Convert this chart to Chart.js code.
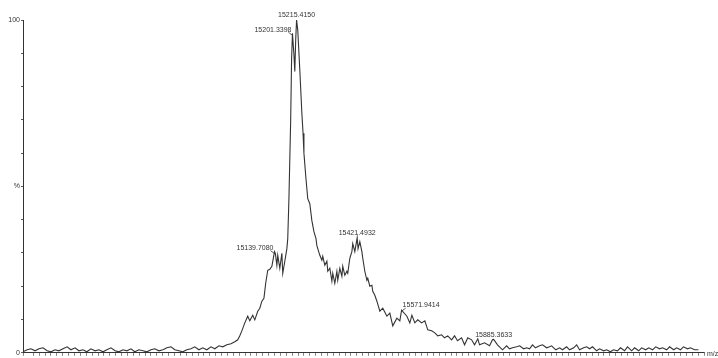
<!DOCTYPE html>
<html>
<head>
<meta charset="utf-8">
<title>Deconvoluted spectrum</title>
<script src="https://cdn.jsdelivr.net/npm/chart.js@4/dist/chart.umd.min.js"></script>
<style>
  html, body { margin: 0; padding: 0; background: #fff; }
  #spectrum { display: block; }
</style>
</head>
<body>
<canvas id="spectrum" width="718" height="358"></canvas>
<script>
// m/z positions of the trace
const mzValues = [
  14285, 14299, 14312, 14326, 14339, 14353, 14367, 14380, 14394, 14407,
  14421, 14435, 14448, 14462, 14475, 14489, 14502, 14516, 14530, 14543,
  14557, 14570, 14584, 14598, 14611, 14625, 14638, 14652, 14665, 14679,
  14693, 14706, 14720, 14733, 14747, 14761, 14774, 14788, 14801, 14815,
  14828, 14842, 14856, 14869, 14883, 14896, 14910, 14924, 14937, 14951,
  14964, 14978, 14992, 15005, 15015, 15022, 15029, 15039, 15049, 15056,
  15066, 15073, 15083, 15090, 15097, 15104, 15110, 15117, 15124, 15131,
  15140, 15143, 15148, 15151, 15158, 15165, 15168, 15175, 15182, 15185,
  15189, 15192, 15195, 15198, 15201, 15206, 15209, 15212, 15215, 15219,
  15226, 15233, 15237, 15240, 15247, 15253, 15260, 15267, 15274, 15281,
  15284, 15294, 15301, 15304, 15311, 15318, 15321, 15328, 15335, 15338,
  15345, 15352, 15355, 15362, 15369, 15372, 15379, 15386, 15389, 15396,
  15403, 15406, 15413, 15421, 15424, 15430, 15437, 15440, 15447, 15454,
  15457, 15464, 15471, 15474, 15481, 15488, 15498, 15508, 15522, 15532,
  15542, 15556, 15566, 15572, 15590, 15600, 15607, 15617, 15627, 15640,
  15651, 15661, 15674, 15685, 15695, 15708, 15718, 15729, 15742, 15752,
  15762, 15776, 15786, 15797, 15810, 15820, 15831, 15837, 15854, 15871,
  15881, 15885, 15898, 15915, 15929, 15939, 15949, 15963, 15973, 15987,
  15997, 16007, 16017, 16027, 16041, 16051, 16065, 16075, 16082, 16096,
  16109, 16119, 16133, 16143, 16157, 16167, 16177, 16191, 16201, 16211,
  16221, 16235, 16245, 16259, 16269, 16282, 16292, 16306, 16316, 16330,
  16340, 16354, 16364, 16378, 16388, 16402, 16412, 16425, 16436, 16449,
  16459, 16473, 16483, 16497, 16507, 16520, 16530, 16544, 16554, 16568,
  16581
];

// relative intensity (%) at each m/z above
const intensity = [
  0.3, 0.9, 1.2, 0.6, 1.2, 1.5, 0.6, 0.3, 0.9, 0.6,
  1.2, 1.8, 0.9, 1.5, 0.6, 0.9, 0.3, 1.2, 0.6, 0.9,
  0.3, 0.9, 1.5, 0.6, 0.3, 0.9, 0.6, 1.2, 0.3, 0.9,
  0.6, 0.3, 0.9, 1.2, 0.6, 0.9, 1.5, 1.8, 0.9, 0.6,
  0.3, 0.9, 1.2, 1.8, 0.9, 1.5, 0.9, 1.8, 1.2, 2.1,
  1.8, 2.4, 2.7, 3.3, 3.9, 5.1, 6.6, 9.0, 11.0, 9.6,
  11.3, 9.9, 12.5, 13.4, 15.5, 16.4, 20.9, 24.8, 25.1, 26.0,
  30.4, 29.8, 26.3, 29.3, 25.4, 29.9, 23.9, 27.5, 31.3, 34.3,
  46.3, 58.2, 70.1, 88.1, 96.0, 89.6, 84.5, 94.0, 100, 97.0,
  85.0, 72.0, 66.0, 60.0, 52.2, 46.3, 44.8, 39.7, 36.4, 34.3,
  32.2, 29.3, 27.8, 29.0, 26.3, 27.5, 24.5, 25.4, 21.5, 23.9,
  20.9, 24.5, 21.8, 25.4, 23.0, 26.0, 23.3, 24.5, 23.9, 28.4,
  30.4, 32.8, 30.4, 34.6, 31.3, 33.4, 30.4, 28.4, 24.5, 21.8,
  22.4, 20.0, 20.3, 18.5, 17.3, 15.5, 12.5, 13.4, 11.0, 11.9,
  8.1, 10.4, 9.6, 12.8, 11.0, 9.0, 11.3, 9.0, 9.9, 9.0,
  9.6, 6.9, 6.6, 6.0, 5.1, 5.4, 4.5, 5.1, 3.9, 5.1,
  3.6, 4.5, 2.4, 4.5, 3.9, 2.4, 4.2, 2.4, 3.0, 2.1,
  3.9, 4.0, 2.4, 0.9, 2.1, 1.2, 1.5, 1.8, 2.1, 1.2,
  1.5, 1.2, 2.4, 1.5, 2.1, 2.4, 1.5, 1.8, 2.1, 0.9,
  1.5, 0.9, 1.8, 0.9, 1.5, 2.4, 0.9, 1.5, 1.8, 1.2,
  1.8, 0.6, 1.2, 0.6, 0.9, 0.3, 0.9, 0.6, 1.5, 0.6,
  1.8, 0.6, 1.5, 0.6, 1.5, 0.9, 1.5, 0.9, 1.8, 1.2,
  1.5, 0.9, 1.8, 0.9, 1.5, 0.9, 1.8, 1.2, 1.5, 0.9,
  0.9
];

// annotated peaks
const peakLabels = ['15139.7080', '15201.3398', '15215.4150', '15421.4932', '15571.9414', '15885.3633'];
const peakMz = [15140, 15201, 15215, 15421, 15572, 15885];
const peakPct = [30.4, 96.0, 100, 34.6, 12.8, 4.0];
// where each label sits relative to its peak
const peakSide = ['left', 'left', 'center', 'center', 'right', 'center'];

const yTickLabels = { 0: '0', 50: '%', 100: '100' };

const INK = '#333333';
const FONT = '7px "Liberation Sans", Arial, sans-serif';

const spectrumPoints = mzValues.map((mz, i) => ({ x: mz, y: intensity[i] }));

// peak labels + the m/z axis title
const peakLabelPlugin = {
  id: 'peakLabels',
  afterDatasetsDraw(chart) {
    const ctx = chart.ctx;
    const xs = chart.scales.x;
    const ys = chart.scales.y;
    ctx.save();
    ctx.font = FONT;
    ctx.fillStyle = INK;
    ctx.strokeStyle = INK;
    ctx.lineWidth = 0.8;
    ctx.textBaseline = 'bottom';
    peakLabels.forEach((text, i) => {
      const px = xs.getPixelForValue(peakMz[i]);
      const py = ys.getPixelForValue(peakPct[i]);
      if (peakSide[i] === 'center') {
        ctx.textAlign = 'center';
        ctx.fillText(text, px, py - 1);
      } else if (peakSide[i] === 'left') {
        ctx.textAlign = 'right';
        ctx.fillText(text, px - 1, py);
        ctx.beginPath();
        ctx.moveTo(px - 4, py - 1);
        ctx.lineTo(px, py + 2);
        ctx.stroke();
      } else {
        ctx.textAlign = 'left';
        ctx.fillText(text, px + 1, py - 2);
        ctx.beginPath();
        ctx.moveTo(px + 4, py - 2);
        ctx.lineTo(px, py + 1);
        ctx.stroke();
      }
    });
    ctx.textAlign = 'left';
    ctx.textBaseline = 'middle';
    ctx.fillText('m/z', chart.chartArea.right + 3, chart.chartArea.bottom + 1);
    ctx.restore();
  }
};

function setupSpectrum() {
  new Chart(document.getElementById('spectrum'), {
    type: 'line',
    data: {
      datasets: [
        {
          data: spectrumPoints,
          borderColor: '#333333',
          borderWidth: 1.1,
          pointRadius: 0,
          tension: 0,
          fill: false
        }
      ]
    },
    options: {
      responsive: false,
      animation: false,
      devicePixelRatio: 1,
      layout: { padding: { top: 20, right: 14, bottom: 0, left: 0 } },
      plugins: {
        legend: { display: false },
        tooltip: { enabled: false }
      },
      scales: {
        x: {
          type: 'linear',
          min: 14285,
          max: 16600,
          afterFit: scale => { scale.height = 3; },
          border: { color: INK, width: 1 },
          grid: { drawOnChartArea: false, tickLength: 3, color: INK, lineWidth: 0.6 },
          ticks: { display: false, stepSize: 20 }
        },
        y: {
          min: 0,
          max: 100,
          afterFit: scale => { scale.width = 23; },
          border: { color: INK, width: 1 },
          grid: { drawOnChartArea: false, tickLength: 2, color: INK, lineWidth: 0.8 },
          ticks: {
            stepSize: 10,
            padding: 1,
            color: INK,
            font: { family: '"Liberation Sans", Arial, sans-serif', size: 7 },
            callback: value => yTickLabels[value] || ''
          }
        }
      }
    },
    plugins: [peakLabelPlugin]
  });
}

setupSpectrum();
</script>
</body>
</html>
